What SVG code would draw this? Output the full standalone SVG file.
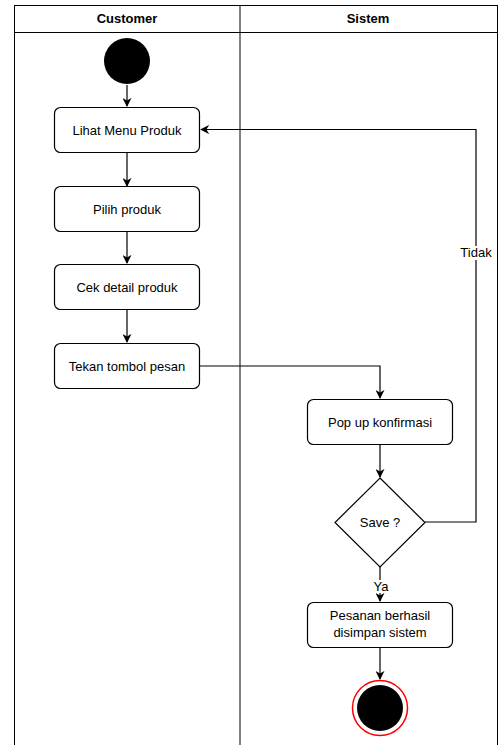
<svg xmlns="http://www.w3.org/2000/svg" width="500" height="745" viewBox="0 0 500 745">
  <style>
    text { font-family: "Liberation Sans", Arial, sans-serif; font-size: 13px; fill: #000; }
    .hdr { font-weight: bold; }
    .box { fill: #fff; stroke: #000; stroke-width: 1.2; }
    .lane { fill: none; stroke: #000; stroke-width: 1; }
    .edge { fill: none; stroke: #000; stroke-width: 1.2; }
    .lbl { fill: #fff; }
  </style>
  <defs>
    <marker id="arr" viewBox="0 0 10 10" refX="9" refY="5" markerWidth="9" markerHeight="9" markerUnits="userSpaceOnUse" orient="auto">
      <path d="M0,0 L10,5 L0,10 L3,5 Z" fill="#000"/>
    </marker>
  </defs>
  <rect width="500" height="745" fill="#fff"/>

  <!-- swimlanes -->
  <g id="lanes">
    <rect class="lane" x="14.5" y="5.5" width="483" height="745"/>
    <line class="lane" x1="14.5" y1="32.5" x2="497.5" y2="32.5"/>
    <line class="lane" x1="240" y1="5.5" x2="240" y2="745" stroke-width="1.5"/>
    <text class="hdr" x="127" y="23" text-anchor="middle">Customer</text>
    <text class="hdr" x="368" y="23" text-anchor="middle">Sistem</text>
  </g>

  <!-- connectors -->
  <g id="edges">
    <path class="edge" d="M127,85 V106" marker-end="url(#arr)"/>
    <path class="edge" d="M127,152 V186" marker-end="url(#arr)"/>
    <path class="edge" d="M127,231 V263" marker-end="url(#arr)"/>
    <path class="edge" d="M127,309 V342" marker-end="url(#arr)"/>
    <path class="edge" d="M200,366 H380 V398" marker-end="url(#arr)"/>
    <path class="edge" d="M380,444 V477" marker-end="url(#arr)"/>
    <path class="edge" d="M425,522 H476 V129.5 H201" marker-end="url(#arr)"/>
    <path class="edge" d="M380,567 V601" marker-end="url(#arr)"/>
    <path class="edge" d="M380,647 V679" marker-end="url(#arr)"/>
    <rect class="lbl" x="458" y="246" width="36" height="14"/>
    <text x="476" y="257" text-anchor="middle">Tidak</text>
    <rect class="lbl" x="371" y="580" width="18" height="13"/>
    <text x="381" y="591" text-anchor="middle">Ya</text>
  </g>

  <g id="start">
    <circle cx="127" cy="61" r="23" fill="#000"/>
  </g>
  <g id="lihat-menu">
    <rect class="box" x="54.5" y="107.5" width="145" height="45" rx="6"/>
    <text x="127" y="134.5" text-anchor="middle">Lihat Menu Produk</text>
  </g>
  <g id="pilih-produk">
    <rect class="box" x="54.5" y="186.5" width="145" height="45" rx="6"/>
    <text x="127" y="213.5" text-anchor="middle">Pilih produk</text>
  </g>
  <g id="cek-detail">
    <rect class="box" x="54.5" y="264.5" width="145" height="45" rx="6"/>
    <text x="127" y="291.5" text-anchor="middle">Cek detail produk</text>
  </g>
  <g id="tekan-tombol">
    <rect class="box" x="54.5" y="343.5" width="145" height="45" rx="6"/>
    <text x="127" y="370.5" text-anchor="middle">Tekan tombol pesan</text>
  </g>
  <g id="pop-up">
    <rect class="box" x="307.5" y="399.5" width="145" height="45" rx="6"/>
    <text x="380" y="426.5" text-anchor="middle">Pop up konfirmasi</text>
  </g>
  <g id="save">
    <path class="box" d="M380,478 L425,522.5 L380,567 L335,522.5 Z"/>
    <text x="380" y="527" text-anchor="middle">Save ?</text>
  </g>
  <g id="pesanan">
    <rect class="box" x="307.5" y="602.5" width="145" height="45" rx="6"/>
    <text x="380" y="620" text-anchor="middle">Pesanan berhasil</text>
    <text x="380" y="637" text-anchor="middle">disimpan sistem</text>
  </g>
  <g id="end">
    <circle cx="380" cy="708" r="27.5" fill="#fff" stroke="#ff0000" stroke-width="1.5"/>
    <circle cx="380" cy="708" r="23" fill="#000"/>
  </g>
</svg>
